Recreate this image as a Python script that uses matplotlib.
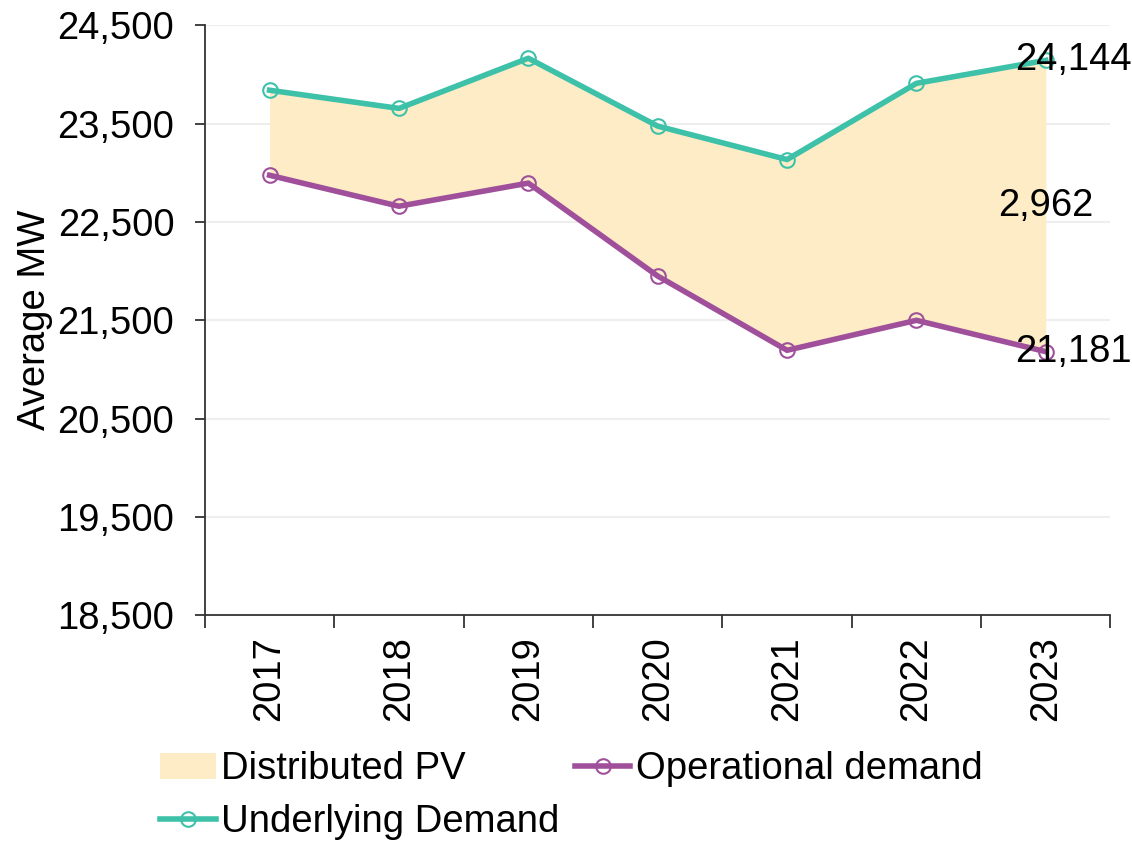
import matplotlib.pyplot as plt
from matplotlib.patches import Patch
from matplotlib.lines import Line2D

plt.rcParams["font.family"] = ["Liberation Sans", "DejaVu Sans"]

years = ["2017", "2018", "2019", "2020", "2021", "2022", "2023"]
underlying = [23840, 23655, 24165, 23475, 23135, 23910, 24144]
operational = [22975, 22660, 22895, 21950, 21195, 21500, 21181]

TEAL = "#3EC1A9"
PURPLE = "#A0509B"
FILL = "#FDECC6"

fig = plt.figure(figsize=(11.32, 8.44), dpi=100)
ax = fig.add_axes([0.181, 0.271, 0.8, 0.699])

x = list(range(len(years)))
ax.fill_between(x, operational, underlying, color=FILL, linewidth=0, zorder=1)
ax.plot(x, operational, color=PURPLE, lw=4, marker="o", ms=10.5,
        mfc="none", mec=PURPLE, mew=1.5, zorder=3)
ax.plot(x, underlying, color=TEAL, lw=4, marker="o", ms=10.5,
        mfc="none", mec=TEAL, mew=1.5, zorder=3)

# last-year labels
fs = 27.5
last = len(years) - 1
ax.annotate(f"{underlying[-1]:,}", (last, underlying[-1]), xytext=(20, 0),
            textcoords="offset points", ha="center", va="center", fontsize=fs, zorder=4)
ax.annotate(f"{operational[-1]:,}", (last, operational[-1]), xytext=(20, 0),
            textcoords="offset points", ha="center", va="center", fontsize=fs, zorder=4)
gap = underlying[-1] - operational[-1] - 1
ax.text(last, (underlying[-1] + operational[-1]) / 2, f"{gap:,}",
        ha="center", va="center", fontsize=fs, zorder=4)

ax.set_ylim(18500, 24500)
ax.set_yticks(range(18500, 24501, 1000))
ax.set_yticklabels([f"{v:,}" for v in range(18500, 24501, 1000)])
ax.set_xlim(-0.5, len(years) - 0.5)
ax.set_xticks([i - 0.5 for i in range(len(years) + 1)])
ax.set_xticklabels([])
ax.set_xticks(x, minor=True)
ax.set_xticklabels(years, minor=True, rotation=90)
ax.tick_params(axis="x", which="major", length=9, width=1.3, color="#333333", direction="out")
ax.tick_params(axis="x", which="minor", length=0, pad=15, labelsize=fs)
ax.tick_params(axis="y", length=7, width=1.3, color="#333333", pad=15, labelsize=fs)

ax.grid(axis="y", color="#EEEEEE", lw=1.5, zorder=0)
ax.set_axisbelow(True)
for s in ["top", "right"]:
    ax.spines[s].set_visible(False)
for s in ["left", "bottom"]:
    ax.spines[s].set_color("#333333")
    ax.spines[s].set_linewidth(1.3)

ax.set_ylabel("Average MW", fontsize=fs)
ax.yaxis.set_label_coords(-0.168, 0.5)

handles = [
    Patch(facecolor=FILL, edgecolor="none"),
    Line2D([], [], color=TEAL, lw=4, marker="o", ms=10.5, mfc="none", mec=TEAL, mew=1.5),
    Line2D([], [], color=PURPLE, lw=4, marker="o", ms=10.5, mfc="none", mec=PURPLE, mew=1.5),
]
labels = ["Distributed PV", "Underlying Demand", "Operational demand"]
fig.legend(handles, labels, ncol=2, loc="upper left", bbox_to_anchor=(0.128, 0.128),
           frameon=False, fontsize=fs, handlelength=1.45, handletextpad=0.15,
           columnspacing=0.4, labelspacing=0.45, borderaxespad=0)

fig.savefig("out.png", dpi=100)
